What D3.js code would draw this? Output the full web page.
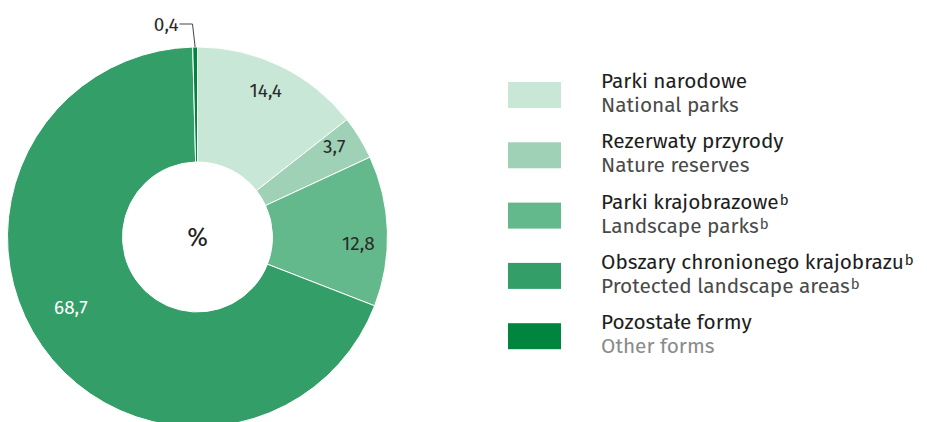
<!DOCTYPE html>
<html>
<head>
<meta charset="utf-8">
<script src="https://cdn.jsdelivr.net/npm/d3@7"></script>
<style>
  body { margin: 0; background: #fff; }
  text { font-family: "Fira Sans", "Open Sans", sans-serif; }
</style>
</head>
<body>
<div id="chart"></div>
<script>
// data
const labelsPl = ["Parki narodowe", "Rezerwaty przyrody", "Parki krajobrazowe", "Obszary chronionego krajobrazu", "Pozostałe formy"]
const labelsEn = ["National parks", "Nature reserves", "Landscape parks", "Protected landscape areas", "Other forms"]
const footnote = ["", "", "b", "b", ""]
const values = [14.4, 3.7, 12.8, 68.7, 0.4]
const colors = ["#c8e7d6", "#9ed1b5", "#64b98c", "#339e68", "#00853f"]

const WIDTH = 927
const HEIGHT = 422
const CX = 197.5, CY = 237
const R_OUT = 190, R_IN = 75

const svg = d3.select("#chart").append("svg")
  .attr("width", WIDTH)
  .attr("height", HEIGHT)

const g = svg.append("g")
  .attr("transform", `translate(${CX}, ${CY})`)

const pie = d3.pie().sort(null).value(d => d)
const arcs = pie(values)

const arc = d3.arc().innerRadius(R_IN).outerRadius(R_OUT)

g.selectAll("path")
  .data(arcs)
  .enter().append("path")
  .attr("d", arc)
  .attr("fill", (d, i) => colors[i])
  .attr("stroke", "#fff")
  .attr("stroke-width", 1)

const fmt = v => String(v).replace(".", ",")

// label placement: radius and angle nudge (degrees) per slice
const labelR = [162, 164, 161, 145]
const labelShift = [-1, -2, 4, 6]
arcs.forEach((d, i) => {
  if (i === 4) return
  const a = (d.startAngle + d.endAngle) / 2 + labelShift[i] * Math.PI / 180
  const r = labelR[i]
  g.append("text")
    .attr("x", Math.sin(a) * r)
    .attr("y", -Math.cos(a) * r)
    .attr("dy", "0.35em")
    .attr("text-anchor", "middle")
    .attr("font-size", "19px")
    .attr("fill", i === 3 ? "#fff" : "#2a2a2a")
    .text(fmt(values[i]))
})

// small slice: leader line + label
const small = arcs[4]
const sa = (small.startAngle + small.endAngle) / 2
const px = Math.sin(sa) * R_OUT, py = -Math.cos(sa) * R_OUT
g.append("polyline")
  .attr("points", `${-18},${-213} ${-5},${-213} ${px},${py}`)
  .attr("fill", "none")
  .attr("stroke", "#444")
  .attr("stroke-width", 1)
g.append("text")
  .attr("x", -19)
  .attr("y", -213)
  .attr("dy", "0.35em")
  .attr("text-anchor", "end")
  .attr("font-size", "19px")
  .attr("fill", "#2a2a2a")
  .text(fmt(values[4]))

g.append("text")
  .attr("x", 0)
  .attr("y", 0)
  .attr("dy", "0.35em")
  .attr("text-anchor", "middle")
  .attr("font-size", "25px")
  .attr("fill", "#222")
  .text("%")

// legend
const legend = svg.append("g").attr("transform", "translate(508, 82)")
labelsPl.forEach((name, i) => {
  const row = legend.append("g").attr("transform", `translate(0, ${i * 60.3})`)
  row.append("rect")
    .attr("width", 53)
    .attr("height", 26)
    .attr("fill", colors[i])
  const t1 = row.append("text")
    .attr("x", 93)
    .attr("y", 6)
    .attr("font-size", "20.8px")
    .attr("fill", "#1e1e1e")
  t1.append("tspan").text(name)
  if (footnote[i]) t1.append("tspan").attr("font-size", "15px").attr("dx", 1).attr("baseline-shift", "28%").text(footnote[i])
  const t2 = row.append("text")
    .attr("x", 93)
    .attr("y", 30)
    .attr("font-size", "20.8px")
    .attr("fill", i === 4 ? "#8a8a8a" : "#4a4a4a")
  t2.append("tspan").text(labelsEn[i])
  if (footnote[i]) t2.append("tspan").attr("font-size", "15px").attr("dx", 1).attr("baseline-shift", "28%").text(footnote[i])
})
</script>
</body>
</html>
